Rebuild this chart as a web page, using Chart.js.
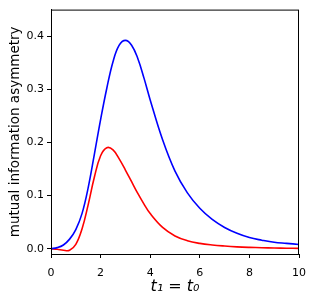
<!DOCTYPE html>
<html>
<head>
<meta charset="utf-8">
<script src="https://cdn.jsdelivr.net/npm/chart.js@4"></script>
<style>
  html, body { margin: 0; padding: 0; background: #fff; }
  #wrap { width: 313px; height: 303px; }
</style>
</head>
<body>
<div id="wrap"><canvas id="grafico"></canvas></div>
<script>
const tempos = [0, 0.25, 0.5, 0.75, 1.0, 1.25, 1.5, 1.75, 2.0, 2.25, 2.5, 2.75, 3.0, 3.25, 3.5, 3.75, 4.0, 4.5, 5.0, 5.5, 6.0, 6.5, 7.0, 7.5, 8.0, 8.5, 9.0, 9.5, 10];
const serieAzul = [0, 0.002, 0.007, 0.018, 0.036, 0.066, 0.115, 0.178, 0.243, 0.302, 0.352, 0.383, 0.392, 0.383, 0.358, 0.321, 0.280, 0.205, 0.146, 0.105, 0.076, 0.055, 0.040, 0.029, 0.021, 0.016, 0.012, 0.010, 0.008];
const serieVermelha = [0, -0.001, -0.003, -0.003, 0.008, 0.037, 0.083, 0.135, 0.175, 0.190, 0.186, 0.169, 0.148, 0.126, 0.104, 0.084, 0.066, 0.040, 0.024, 0.015, 0.010, 0.007, 0.005, 0.0035, 0.0025, 0.0018, 0.0012, 0.0008, 0.0006];
const ticksX = [0, 2, 4, 6, 8, 10];
const ticksY = [0.0, 0.1, 0.2, 0.3, 0.4];

const pontos = serie => tempos.map((t, i) => ({x: t, y: serie[i]}));

// moldura preta em volta da área do gráfico (estilo matplotlib)
const moldura = {
    id: 'moldura',
    afterDraw(chart) {
        const {ctx, chartArea: a} = chart;
        ctx.save();
        ctx.strokeStyle = '#000';
        ctx.lineWidth = 1;
        ctx.strokeRect(a.left + 0.5, a.top + 0.5, a.right - a.left - 1, a.bottom - a.top);
        ctx.restore();
    }
};

const ctx = document.getElementById('grafico').getContext('2d');

new Chart(ctx, {
    type: 'line',
    data: {
        datasets: [{
            data: pontos(serieAzul),
            borderColor: '#0000ff',
            borderWidth: 1.6,
            pointRadius: 0,
            tension: 0.4
        }, {
            data: pontos(serieVermelha),
            borderColor: '#ff0000',
            borderWidth: 1.6,
            pointRadius: 0,
            tension: 0.4
        }]
    },
    options: {
        responsive: true,
        maintainAspectRatio: false,
        animation: false,
        events: [],
        layout: {padding: {top: 8, right: 14, bottom: 0, left: 0}},
        plugins: {
            legend: {display: false},
            tooltip: {enabled: false}
        },
        scales: {
            x: {
                type: 'linear',
                min: 0,
                max: 10,
                afterBuildTicks: s => { s.ticks = ticksX.map(v => ({value: v})); },
                afterFit: s => { s.height = 49; s.paddingLeft = 0; s.paddingRight = 0; },
                grid: {drawOnChartArea: false, tickLength: 4, tickColor: '#000'},
                border: {color: '#000'},
                ticks: {color: '#000', padding: 9, maxRotation: 0, font: {family: 'DejaVu Sans', size: 11}},
                title: {
                    display: true,
                    text: 't₁ = t₀',
                    color: '#000',
                    padding: {top: 0, bottom: 7},
                    font: {family: 'DejaVu Sans', size: 16, style: 'italic'}
                }
            },
            y: {
                min: -0.01,
                max: 0.45,
                afterBuildTicks: s => { s.ticks = ticksY.map(v => ({value: v})); },
                afterFit: s => { s.width = 51; },
                grid: {drawOnChartArea: false, tickLength: 4, tickColor: '#000'},
                border: {color: '#000'},
                ticks: {color: '#000', padding: 3, callback: v => v.toFixed(1), font: {family: 'DejaVu Sans', size: 11}},
                title: {
                    display: true,
                    text: 'mutual information asymmetry',
                    color: '#000',
                    padding: {top: 7, bottom: 4},
                    font: {family: 'DejaVu Sans', size: 13.5}
                }
            }
        }
    },
    plugins: [moldura]
});
</script>
</body>
</html>
